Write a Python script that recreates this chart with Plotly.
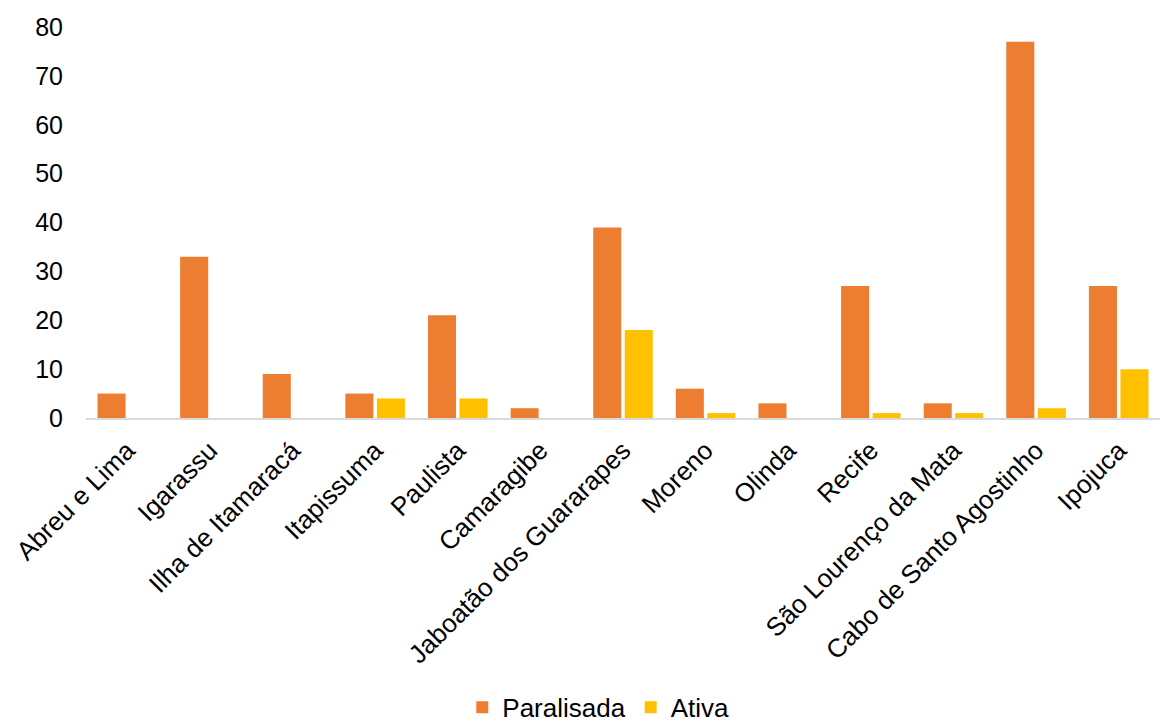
import plotly.graph_objects as go

municipios = [
    "Abreu e Lima", "Igarassu", "Ilha de Itamaracá", "Itapissuma", "Paulista",
    "Camaragibe", "Jaboatão dos Guararapes", "Moreno", "Olinda", "Recife",
    "São Lourenço da Mata", "Cabo de Santo Agostinho", "Ipojuca",
]
paralisada = [5, 33, 9, 5, 21, 2, 39, 6, 3, 27, 3, 77, 27]
ativa = [0, 0, 0, 4, 4, 0, 18, 1, 0, 1, 1, 2, 10]
y_ticks = [0, 10, 20, 30, 40, 50, 60, 70, 80]

FONT = "Liberation Sans, Arial, sans-serif"

fig = go.Figure()
fig.add_trace(go.Bar(name="Paralisada", x=municipios, y=paralisada,
                     marker=dict(color="#ED7D31", line=dict(width=0))))
fig.add_trace(go.Bar(name="Ativa", x=municipios, y=ativa,
                     marker=dict(color="#FFC000", line=dict(width=0))))

fig.update_layout(
    width=1160, height=724,
    margin=dict(l=86, r=0, t=27, b=306, autoexpand=False),
    paper_bgcolor="white", plot_bgcolor="white",
    barmode="group", bargap=0.237, bargroupgap=0.11,
    font=dict(family=FONT, size=25, color="#000000"),
    showlegend=True,
    legend=dict(orientation="h", x=0.477, xanchor="center", y=-0.740, yanchor="middle",
                font=dict(size=26), itemwidth=30, traceorder="normal"),
    xaxis=dict(tickangle=-45, showgrid=False, showline=True, linecolor="#D9D9D9",
               linewidth=2, ticks="", tickfont=dict(size=26), automargin=False,
               ticklabelstandoff=5),
    yaxis=dict(range=[0, 80], tickvals=y_ticks, showgrid=False, zeroline=False,
               showline=False, ticks="", ticklabelstandoff=22, tickfont=dict(size=25),
               automargin=False),
)

fig.write_html("out.html")
